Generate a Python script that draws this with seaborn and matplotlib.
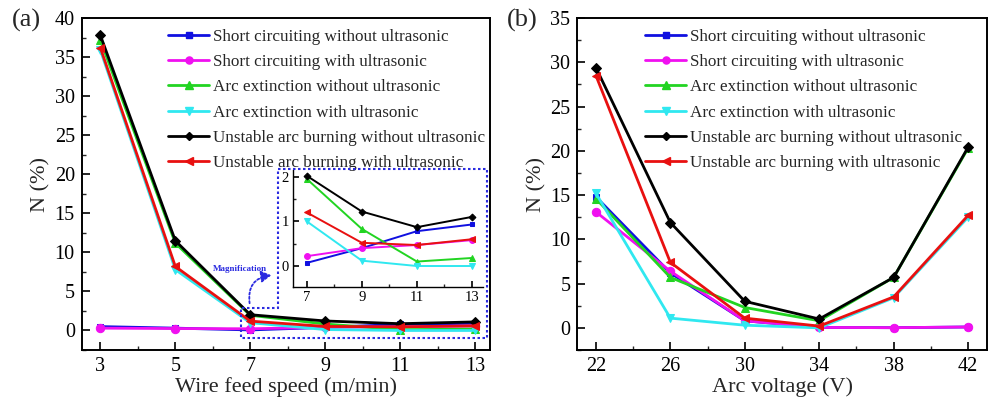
import matplotlib
matplotlib.use("Agg")
import matplotlib.pyplot as plt
import seaborn as sns
import pandas as pd
from matplotlib.ticker import MultipleLocator
from matplotlib.lines import Line2D
from matplotlib.patches import Polygon, FancyArrowPatch

# ---------------- data ----------------
wire_speed = [3, 5, 7, 9, 11, 13]
a_short_wo = [0.5, 0.3, 0.07, 0.40, 0.78, 0.93]
a_short_w = [0.3, 0.25, 0.22, 0.40, 0.47, 0.58]
a_arc_wo = [37.2, 11.2, 1.95, 0.83, 0.10, 0.18]
a_arc_w = [35.9, 7.8, 1.00, 0.12, 0.00, 0.00]
a_unst_wo = [37.8, 11.5, 2.02, 1.22, 0.87, 1.10]
a_unst_w = [36.2, 8.2, 1.20, 0.52, 0.47, 0.60]

voltage = [22, 26, 30, 34, 38, 42]
b_short_wo = [14.8, 6.2, 0.8, 0.05, 0.02, 0.10]
b_short_w = [13.1, 6.4, 0.8, 0.05, 0.02, 0.10]
b_arc_wo = [14.6, 5.7, 2.3, 0.8, 5.7, 20.3]
b_arc_w = [15.2, 1.1, 0.3, 0.0, 3.4, 12.5]
b_unst_wo = [29.4, 11.9, 3.0, 1.0, 5.7, 20.4]
b_unst_w = [28.5, 7.4, 1.1, 0.2, 3.5, 12.7]

series_names = [
    "Short circuiting without ultrasonic",
    "Short circuiting with ultrasonic",
    "Arc extinction without ultrasonic",
    "Arc extinction with ultrasonic",
    "Unstable arc burning without ultrasonic",
    "Unstable arc burning with ultrasonic",
]
colors = ["#1010e0", "#f010f0", "#22d422", "#30e8f0", "#000000", "#e81010"]
markers = ["s", "o", "^", "v", "D", "<"]
msizes = [5, 6, 6, 6, 5, 6]

a_series = [a_short_wo, a_short_w, a_arc_wo, a_arc_w, a_unst_wo, a_unst_w]
b_series = [b_short_wo, b_short_w, b_arc_wo, b_arc_w, b_unst_wo, b_unst_w]

# ---------------- style ----------------
sns.set_style("ticks")
plt.rcParams["font.family"] = ["Liberation Serif", "DejaVu Serif"]

W, H = 990, 404
fig = plt.figure(figsize=(W / 100, H / 100), dpi=100)


def px_rect(l, t, r, b):
    return [l / W, (H - b) / H, (r - l) / W, (b - t) / H]


def fx(x):
    return x / W


def fy(y):
    return (H - y) / H


def style_axes(ax, fs=14.5, major=6, minor=3, lw=1.4):
    for s in ax.spines.values():
        s.set_linewidth(lw)
        s.set_color("black")
    ax.tick_params(which="major", direction="in", length=major, width=1.2,
                   labelsize=fs, pad=5, colors="black",
                   top=False, right=False)
    ax.tick_params(which="minor", direction="in", length=minor, width=1.0,
                   top=False, right=False)


def draw(ax, x, series, lw=2.0, scale=1.0):
    for vals, c, m, ms, name in zip(series, colors, markers, msizes, series_names):
        df = pd.DataFrame({"x": x, "y": vals})
        sns.lineplot(data=df, x="x", y="y", ax=ax, color=c, marker=m,
                     markersize=ms * scale, markeredgecolor=c, linewidth=lw,
                     label=name, legend=False)


def add_legend(ax, left_px, top_px):
    handles = [Line2D([0], [0], color=c, marker=m, markersize=ms * 0.85,
                      markeredgecolor=c, linewidth=2.0)
               for c, m, ms in zip(colors, markers, msizes)]
    ax.legend(handles, series_names, loc="upper left", frameon=False,
              bbox_to_anchor=(fx(left_px), fy(top_px)),
              bbox_transform=fig.transFigure, borderpad=0, borderaxespad=0,
              fontsize=12.3, handlelength=2.4, handletextpad=0.22,
              labelspacing=0.54)


# ---------------- panel (a) ----------------
axa = fig.add_axes(px_rect(81.7, 18.3, 490, 350))
draw(axa, wire_speed, a_series)
axa.set_xlim(2.5, 13.4)
axa.set_ylim(-2.5, 40)
axa.set_xticks(wire_speed)
axa.xaxis.set_minor_locator(MultipleLocator(1))
axa.yaxis.set_major_locator(MultipleLocator(5))
axa.yaxis.set_minor_locator(MultipleLocator(2.5))
style_axes(axa)
axa.set_xlabel("Wire feed speed (m/min)", fontsize=16, labelpad=1)
axa.set_ylabel("N (%)", fontsize=16, labelpad=3)
add_legend(axa, 168, 29)
fig.text(fx(12), fy(20), "(a)", fontsize=19, ha="left", va="center")

# inset
axi = fig.add_axes(px_rect(293, 170, 483, 287))
draw(axi, wire_speed[2:], [s[2:] for s in a_series], lw=1.4, scale=0.7)
axi.set_xlim(6.5, 13.4)
axi.set_ylim(-0.47, 2.15)
axi.set_xticks(wire_speed[2:])
axi.xaxis.set_minor_locator(MultipleLocator(1))
axi.yaxis.set_major_locator(MultipleLocator(1))
axi.yaxis.set_minor_locator(MultipleLocator(0.5))
axi.spines["top"].set_visible(False)
axi.spines["right"].set_visible(False)
style_axes(axi, fs=10.5, major=4, minor=2, lw=1.0)
axi.tick_params(which="major", pad=3)
axi.set_xlabel("")
axi.set_ylabel("")
axi.patch.set_alpha(0)

# dotted outline round inset and zoomed region
poly_px = [(278, 169), (487, 169), (487, 338), (241, 338), (241, 308), (278, 308)]
poly = Polygon([(fx(x), fy(y)) for x, y in poly_px], closed=True, fill=False,
               edgecolor="#2a2ae0", linestyle=(0, (1.2, 1.2)), linewidth=1.5,
               transform=fig.transFigure)
fig.add_artist(poly)
fig.text(fx(240), fy(269), "Magnification", fontsize=6.5, fontweight="bold",
         color="#2a2ae0", ha="center", va="center")
fig.add_artist(FancyArrowPatch(
    (fx(250), fy(306)), (fx(274), fy(275)), transform=fig.transFigure,
    connectionstyle="arc3,rad=-0.55", arrowstyle="-|>,head_length=6,head_width=3.5",
    color="#2a2ae0", linestyle=(0, (1.2, 1.2)), linewidth=1.3))

# ---------------- panel (b) ----------------
axb = fig.add_axes(px_rect(577.3, 18, 986.7, 350))
draw(axb, voltage, b_series)
axb.set_xlim(21, 43)
axb.set_ylim(-2.5, 35)
axb.set_xticks(voltage)
axb.xaxis.set_minor_locator(MultipleLocator(2))
axb.yaxis.set_major_locator(MultipleLocator(5))
axb.yaxis.set_minor_locator(MultipleLocator(2.5))
style_axes(axb)
axb.set_xlabel("Arc voltage (V)", fontsize=16, labelpad=1)
axb.set_ylabel("N (%)", fontsize=16, labelpad=3)
add_legend(axb, 645, 29)
fig.text(fx(507), fy(20), "(b)", fontsize=19, ha="left", va="center")

fig.savefig("out.png", dpi=100)
